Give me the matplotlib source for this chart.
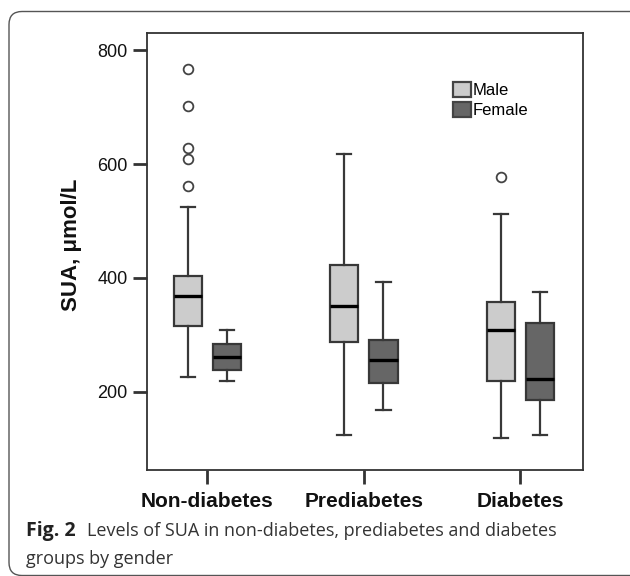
import matplotlib
matplotlib.use("Agg")
import matplotlib.pyplot as plt
from matplotlib.patches import FancyBboxPatch, Patch

# ---- data ----
categories = ["Non-diabetes", "Prediabetes", "Diabetes"]
series = ["Male", "Female"]
# (whislo, q1, median, q3, whishi)
male_stats = [
    (226, 315, 369, 404, 524),
    (125, 288, 351, 422, 618),
    (119, 220, 308, 357, 512),
]
female_stats = [
    (220, 238, 261, 285, 308),
    (168, 215, 256, 291, 393),
    (125, 185, 223, 321, 375),
]
male_outliers = [
    [767, 702, 628, 609, 561],
    [],
    [578],
]
female_outliers = [[], [], []]
yticks = [200, 400, 600, 800]

male_color = "#cccccc"
female_color = "#666666"
edge = "#383838"

sans = ["Liberation Sans", "DejaVu Sans"]
cap_font = ["Open Sans", "DejaVu Sans"]

fig = plt.figure(figsize=(6.3, 5.76), dpi=100)
ax = fig.add_axes([147/630, 106/576, 436/630, 437/576])

def make_stats(stats, outl):
    out = []
    for (lo, q1, med, q3, hi), fl in zip(stats, outl):
        out.append(dict(whislo=lo, q1=q1, med=med, q3=q3, whishi=hi, fliers=fl))
    return out

pos = [1, 2, 3]
off = 0.125
w = 0.18
for stats, outl, color, sgn in [(male_stats, male_outliers, male_color, -1),
                                (female_stats, female_outliers, female_color, 1)]:
    ax.bxp(make_stats(stats, outl), positions=[p + sgn * off for p in pos],
           widths=w, patch_artist=True, showfliers=True,
           boxprops=dict(facecolor=color, edgecolor=edge, linewidth=1.6),
           medianprops=dict(color="black", linewidth=2.4),
           whiskerprops=dict(color=edge, linewidth=1.6),
           capprops=dict(color=edge, linewidth=1.6),
           capwidths=w * 0.5,
           flierprops=dict(marker="o", markersize=7, markerfacecolor="white",
                           markeredgecolor="#444444", markeredgewidth=1.3))

ax.set_xlim(0.614, 3.40)
ax.set_ylim(63, 830)
ax.set_yticks(yticks)
ax.set_yticklabels([str(v) for v in yticks], family=sans, fontsize=13, color="#111111")
ax.set_xticks(pos)
ax.set_xticklabels(categories, family=sans, fontsize=15, fontweight="bold", color="#111111")
ax.tick_params(axis="y", length=10, width=2, color="#333333", pad=4)
ax.tick_params(axis="x", length=10, width=2, color="#333333", pad=6)
for s in ax.spines.values():
    s.set_color("#333333")
    s.set_linewidth(1.3)

ax.set_ylabel("SUA, \u03bcmol/L", family=sans, fontsize=16, fontweight="bold",
              color="#111111")
ax.yaxis.set_label_coords(-0.150, 0.515)

handles = [Patch(facecolor=male_color, edgecolor="#444444", linewidth=1.6, label=series[0]),
           Patch(facecolor=female_color, edgecolor="#444444", linewidth=1.6, label=series[1])]
leg = ax.legend(handles=handles, loc="upper left", bbox_to_anchor=(0.702, 0.888),
                frameon=False, handlelength=1.05, handleheight=1.05, handletextpad=0.12,
                labelspacing=0.22, borderpad=0, borderaxespad=0,
                prop=dict(family=sans, size=12))

# rounded frame
frame = FancyBboxPatch((0.09, 0.005), 7.0, 5.64,
                       boxstyle="round,pad=0,rounding_size=0.13",
                       transform=fig.dpi_scale_trans, fill=False,
                       edgecolor="#555555", linewidth=1.0, clip_on=False)
fig.patches.append(frame)

# caption
fig.text(26/630, 1 - 531/576, "Fig. 2", fontsize=14, fontweight="bold",
         family=cap_font, color="#222222", va="center")
fig.text(87/630, 1 - 531/576, "Levels of SUA in non-diabetes, prediabetes and diabetes",
         fontsize=13, family=cap_font, color="#333333", va="center")
fig.text(26/630, 1 - 559/576, "groups by gender",
         fontsize=13, family=cap_font, color="#333333", va="center")

fig.savefig("out.png", dpi=100)
